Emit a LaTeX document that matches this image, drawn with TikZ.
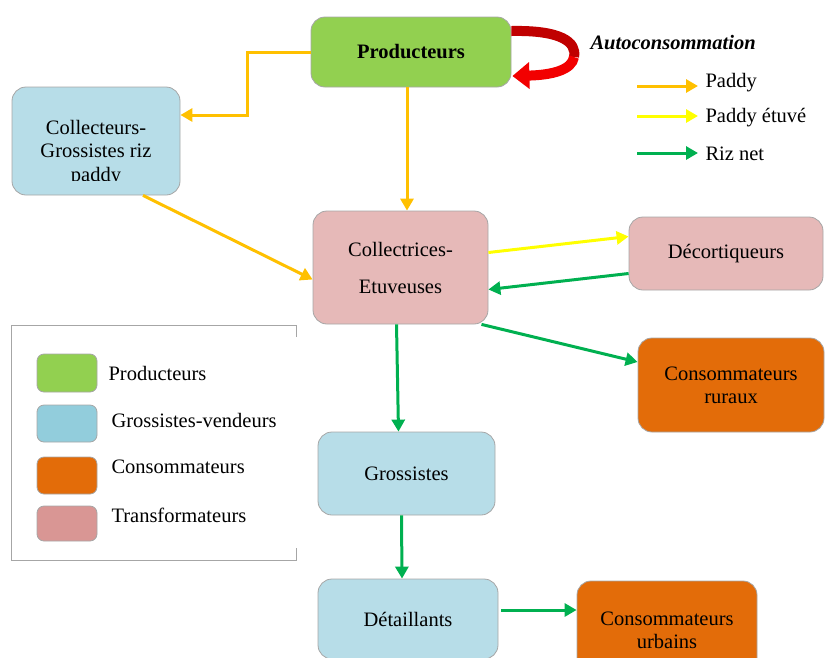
\documentclass[tikz,border=0pt]{standalone}
\usepackage{fontspec}
\setmainfont{Liberation Serif}
\usetikzlibrary{arrows.meta,positioning}

\definecolor{prodgreen}{HTML}{92D050}
\definecolor{grosblue}{HTML}{B7DDE8}
\definecolor{legblue}{HTML}{92CDDC}
\definecolor{consorange}{HTML}{E36C09}
\definecolor{transpink}{HTML}{E6B9B8}
\definecolor{legpink}{HTML}{D99694}
\definecolor{paddyc}{HTML}{FFC000}
\definecolor{etuvec}{HTML}{FFFF00}
\definecolor{rizc}{HTML}{00B050}
\definecolor{loopdark}{HTML}{C00000}
\definecolor{loopred}{HTML}{F20000}

\begin{document}
\begin{tikzpicture}[x=1pt, y=-1pt,
    every node/.style={font=\fontsize{20.5}{23}\selectfont},
    box/.style={draw=black!35, line width=0.8pt, rounded corners=14pt, align=center},
    swatch/.style={draw=black!35, line width=0.8pt, rounded corners=7pt, minimum width=60pt},
    flux/.style={line width=3pt, -{Triangle[length=12pt,width=13pt]}},
    paddy/.style={flux, paddyc},
    etuve/.style={flux, etuvec},
    riz/.style={flux, rizc}]
    \useasboundingbox (0,0) rectangle (827,657);

    % Draw the actors
    \node[box, fill=prodgreen, minimum width=200pt, minimum height=70pt,
          font=\fontsize{20.5}{23}\selectfont\bfseries] (prod) at (411,52) {\raisebox{-4pt}{Producteurs}};
    \node[box, fill=grosblue, minimum width=168pt, minimum height=108pt] (coll) at (96,141) {};
    \begin{scope}
        \clip (12,87) rectangle (180,180);
        \node[align=center, font=\fontsize{20.5}{23.5}\selectfont] (colltxt) at (96,153) {Collecteurs-\\Grossistes riz\\paddy};
    \end{scope}
    \node[box, fill=transpink, minimum width=175pt, minimum height=113pt] (colt) at (400.5,267.5) {Collectrices-\\[14pt]Etuveuses};
    \node[box, fill=transpink, minimum width=194pt, minimum height=73pt] (deco) at (726,253.5) {\raisebox{-2pt}{Décortiqueurs}};
    \node[box, fill=consorange, minimum width=186pt, minimum height=94pt] (rural) at (731,385) {\raisebox{-3pt}{Consommateurs}\\\raisebox{-3pt}{ruraux}};
    \node[box, fill=grosblue, minimum width=177pt, minimum height=83pt] (gros) at (406.5,473.5) {Grossistes};
    \node[box, fill=grosblue, minimum width=180pt, minimum height=80pt] (detail) at (408,619) {Détaillants};
    \node[box, fill=consorange, minimum width=180pt, minimum height=98pt] (urbain) at (667,630) {Consommateurs\\urbains};

    % Draw the autoconsommation loop
    \coordinate (loop) at (574,57);
    \draw[line width=10pt, loopdark] ([yshift=21pt]prod.east) .. controls (561,30) and (577,42) .. (loop);
    \draw[line width=10pt, loopred, -{Triangle[length=17pt,width=26pt]}] (loop) .. controls (572,70) and (552,75) .. ([xshift=1pt,yshift=-24pt]prod.east);

    % Draw the flows
    \draw[paddy] (prod.west) -| ([xshift=67pt,yshift=26pt]coll.east) -- ([yshift=26pt]coll.east);
    \draw[paddy] ([xshift=-4pt]prod.south) -- ([xshift=-4pt]prod.south |- colt.north);
    \draw[paddy] ([xshift=47pt]coll.south) -- ([yshift=-12pt]colt.west);
    \draw[etuve] ([yshift=15pt]colt.east) -- ([yshift=17pt]deco.west);
    \draw[riz] ([yshift=-20pt]deco.west) -- ([yshift=-22pt]colt.east);
    \draw[riz] ([xshift=81pt]colt.south) -- ([yshift=23pt]rural.west);
    \draw[riz] ([xshift=-4pt]colt.south) -- ([xshift=-8pt]gros.north);
    \draw[riz] ([xshift=-5pt]gros.south) -- ([xshift=-6pt]detail.north);
    \draw[riz] ([xshift=3pt,yshift=9pt]detail.east) -- ([yshift=20pt]urbain.west);

    % Draw the flow legend
    \node[anchor=west, font=\fontsize{20.5}{23}\selectfont\bfseries\itshape] (auto) at (587,43) {Autoconsommation};
    \coordinate (pa) at (637,86);  \coordinate (pb) at (698,86);
    \coordinate (ea) at (637,116); \coordinate (eb) at (698,116);
    \coordinate (ra) at (637,153); \coordinate (rb) at (698,153);
    \draw[paddy] (pa) -- (pb);
    \draw[etuve] (ea) -- (eb);
    \draw[riz] (ra) -- (rb);
    \node[anchor=west] (lpaddy) at (702,83) {Paddy};
    \node[anchor=west] (letuve) at (702,118) {Paddy étuvé};
    \node[anchor=west] (lriz) at (702,154) {Riz net};

    % Draw the colour legend
    \draw[black!35, line width=0.8pt] (296,337) -- (296,325) -- (11,325) -- (11,560) -- (296,560) -- (296,548);
    \node[swatch, fill=prodgreen, minimum height=38pt] (sw1) at (67,373) {};
    \node[swatch, fill=legblue, minimum height=37pt] (sw2) at (67,423.5) {};
    \node[swatch, fill=consorange, minimum height=37pt] (sw3) at (67,475.5) {};
    \node[swatch, fill=legpink, minimum height=35pt] (sw4) at (67,523.5) {};
    \node[anchor=west] (lt1) at (105,373) {Producteurs};
    \node[anchor=west] (lt2) at (108,420) {Grossistes-vendeurs};
    \node[anchor=west] (lt3) at (108,467) {Consommateurs};
    \node[anchor=west] (lt4) at (108,515) {Transformateurs};
\end{tikzpicture}
\end{document}
